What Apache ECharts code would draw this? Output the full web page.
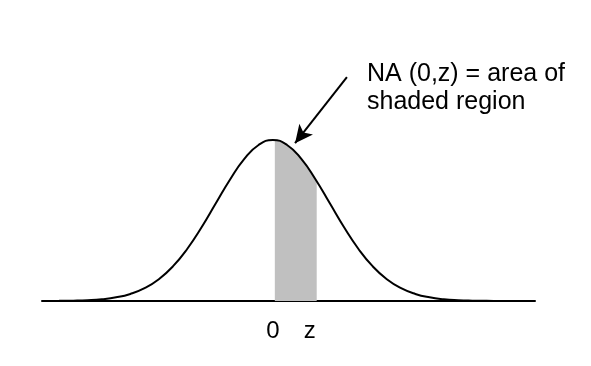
<!DOCTYPE html>
<html>
<head>
<meta charset="utf-8">
<script src="https://cdn.jsdelivr.net/npm/echarts@6/dist/echarts.min.js"></script>
<style>html,body{margin:0;padding:0;background:#fff}#c{width:591px;height:366px}</style>
</head>
<body>
<div id="c"></div>
<script>
// Curve (z in standard-deviation units, height relative to peak)
var curveX = [-4.05, -4, -3.75, -3.5, -3.25, -3, -2.75, -2.5, -2.25, -2, -1.75, -1.5, -1.25, -1, -0.75, -0.5, -0.25, 0, 0.25, 0.5, 0.75, 1, 1.25, 1.5, 1.75, 2, 2.25, 2.5, 2.75, 3, 3.25, 3.5, 3.75, 4, 4.25, 4.6];
var curveY = [0, 0.0003, 0.0009, 0.0022, 0.0051, 0.0111, 0.0228, 0.0439, 0.0796, 0.1353, 0.2163, 0.3247, 0.4578, 0.6065, 0.7548, 0.8825, 0.9692, 1, 0.9692, 0.8825, 0.7548, 0.6065, 0.4578, 0.3247, 0.2163, 0.1353, 0.0796, 0.0439, 0.0228, 0.0111, 0.0051, 0.0022, 0.0009, 0.0003, 0.0001, 0];
// Shaded region between 0 and z
var shadeX = [0.035, 0.25, 0.5, 0.77];
var shadeY = [0.999, 0.9692, 0.8825, 0.744];
// Tick labels
var tickValues = [0, 0.65];
var tickLabels = ['0', 'z'];
// Annotation
var annotationLines = ['NA (0,z) = area of', 'shaded region'];
var arrowFrom = [1.30, 1.39];
var arrowTo = [0.39, 0.98];

function pairs(xs, ys) { return xs.map(function (x, i) { return [x, ys[i]]; }); }

var chart = echarts.init(document.getElementById('c'), null, { renderer: 'canvas' });
chart.setOption({
  animation: false,
  backgroundColor: '#ffffff',
  grid: { left: 42, right: 56, top: 60, bottom: 65, containLabel: false },
  xAxis: {
    type: 'value', min: -4.05, max: 4.6,
    splitLine: { show: false },
    axisLine: { show: true, onZero: false, lineStyle: { color: '#000', width: 2 } },
    axisTick: { show: false },
    axisLabel: {
      show: true, customValues: tickValues, margin: 18,
      fontFamily: 'Liberation Sans, Arial, sans-serif', fontSize: 24, color: '#000',
      formatter: function (v) { var i = tickValues.indexOf(v); return i >= 0 ? tickLabels[i] : ''; }
    }
  },
  yAxis: {
    type: 'value', min: 0, max: 1.497, show: false,
    splitLine: { show: false }
  },
  series: [
    {
      type: 'line', data: pairs(shadeX, shadeY), smooth: true, symbol: 'none',
      lineStyle: { width: 0, opacity: 0 },
      areaStyle: { color: '#c0c0c0', opacity: 1 },
      z: 1
    },
    {
      type: 'line', data: pairs(curveX, curveY), smooth: true, symbol: 'none',
      lineStyle: { color: '#000', width: 2 },
      z: 2,
      markLine: {
        silent: true, animation: false,
        symbol: ['none', 'arrow'], symbolSize: [13, 18],
        label: { show: false },
        lineStyle: { color: '#000', width: 2, type: 'solid' },
        data: [[{ coord: arrowFrom }, { coord: arrowTo }]]
      }
    }
  ],
  graphic: [{
    type: 'text', left: 367, top: 60,
    style: {
      text: annotationLines.join('\n'),
      font: '25px "Liberation Sans", Arial, sans-serif',
      lineHeight: 28, fill: '#000'
    }
  }]
});
</script>
</body>
</html>
